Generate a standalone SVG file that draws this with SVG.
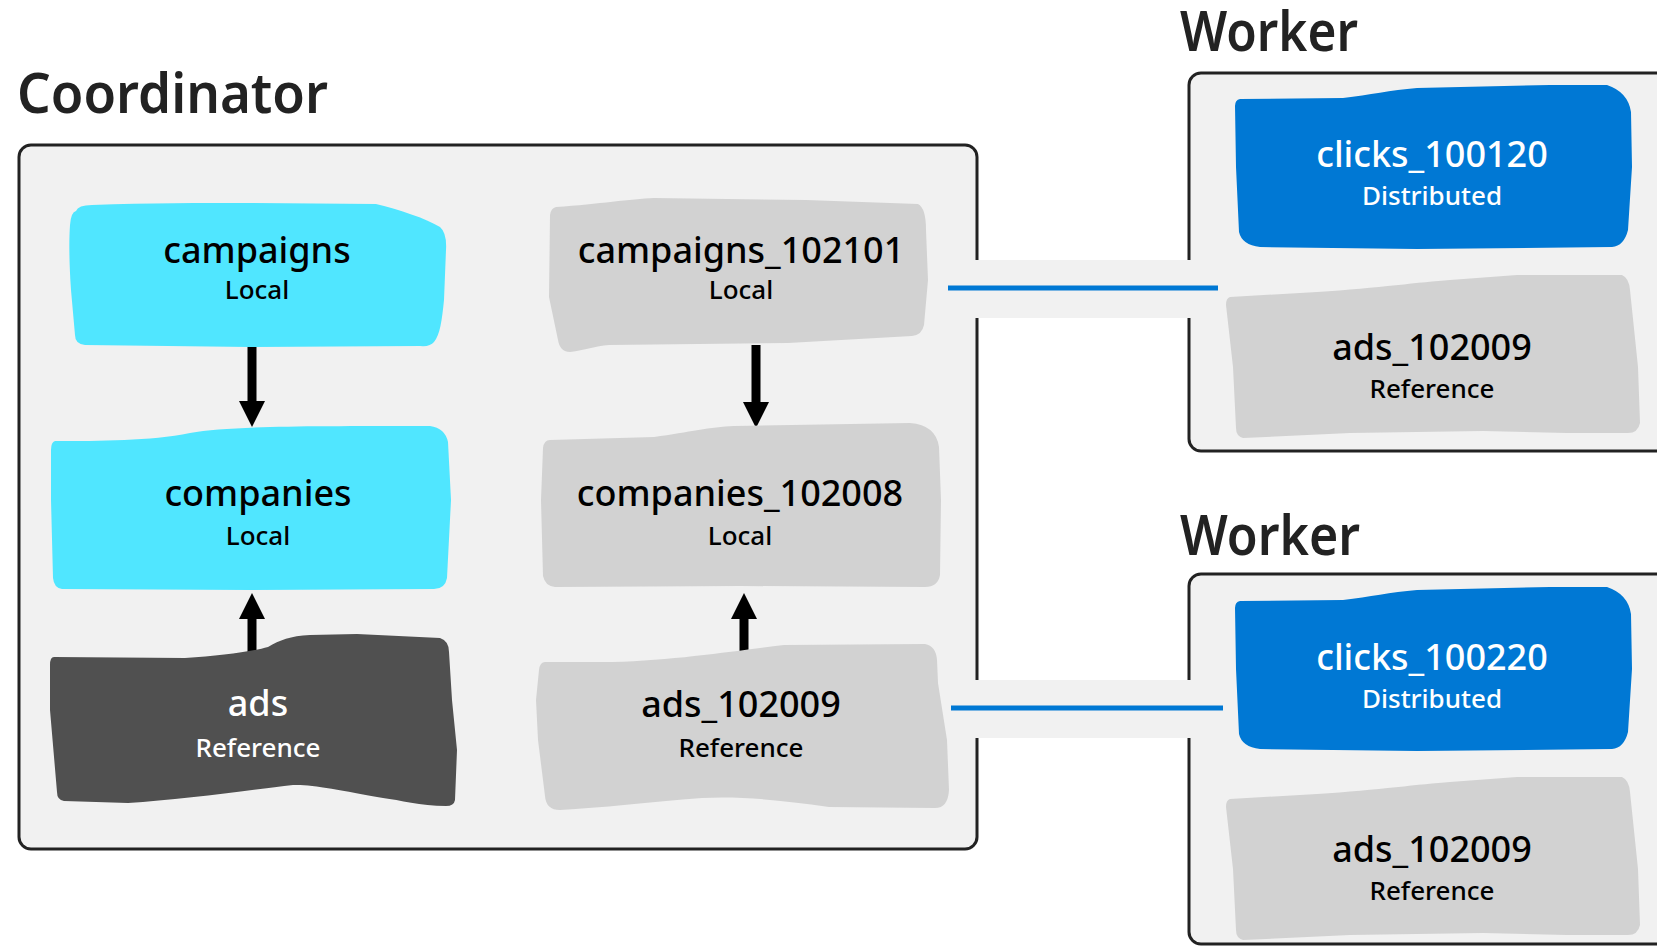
<svg xmlns="http://www.w3.org/2000/svg" width="1657" height="947" viewBox="0 0 1657 947">
<defs>
<style>
.title{font-family:"Noto Sans","Open Sans","Liberation Sans",sans-serif;font-size:56px;fill:#222;font-weight:600}
.main{font-family:"Noto Sans","Open Sans","Liberation Sans",sans-serif;font-size:36px;text-anchor:middle;font-weight:500}
.sub{font-family:"Noto Sans","Open Sans","Liberation Sans",sans-serif;font-size:26px;text-anchor:middle;font-weight:500}
.dark{fill:#000}
.light{fill:#fff}
.box{fill:#f1f1f1;stroke:#222;stroke-width:3}
.cyan{fill:#50e6ff}
.blue{fill:#0078d4}
.gray{fill:#d2d2d2}
.char{fill:#505050}
.band{fill:#f1f1f1}
.link{stroke:#0078d4;stroke-width:5;fill:none}
.arrow{stroke:#000;stroke-width:9;fill:none;marker-end:url(#head)}
</style>
<marker id="head" markerUnits="userSpaceOnUse" markerWidth="26" markerHeight="26" viewBox="0 0 26 26" refX="2" refY="13" orient="auto">
<path d="M0,0 L26,13 L0,26 Z" fill="#000"/>
</marker>
</defs>
<rect width="1657" height="947" fill="#fff"/>

<g id="coordinator">
<text class="title" x="17" y="113" textLength="311" lengthAdjust="spacingAndGlyphs">Coordinator</text>
<rect class="box" x="19" y="145" width="958" height="704" rx="12"/>
</g>

<g id="worker1">
<text class="title" x="1180" y="51" textLength="178" lengthAdjust="spacingAndGlyphs">Worker</text>
<rect class="box" x="1189" y="73" width="520" height="378" rx="12"/>
</g>

<g id="worker2">
<text class="title" x="1180" y="555" textLength="180" lengthAdjust="spacingAndGlyphs">Worker</text>
<rect class="box" x="1189" y="574" width="520" height="370" rx="12"/>
</g>

<g id="connectors">
<rect class="band" x="968" y="260" width="230" height="58"/>
<rect class="band" x="968" y="680" width="230" height="58"/>
<line class="link" x1="948" y1="288" x2="1218" y2="288"/>
<line class="link" x1="951" y1="708" x2="1223" y2="708"/>
<line class="arrow" x1="252" y1="345" x2="252" y2="403"/>
<line class="arrow" x1="756" y1="345" x2="756" y2="404"/>
<line class="arrow" x1="252" y1="659" x2="252" y2="617"/>
<line class="arrow" x1="744" y1="659" x2="744" y2="617"/>
</g>

<g id="campaigns">
<path class="cyan" d="M76 211 Q78 205 92 205 C150 203 200 203 250 203 L376 204 C400 210 425 218 440 227 Q447 233 446 250 L444 300 C442 320 440 335 434 342 Q430 347 420 346 L250 347 L85 345 Q75 344 75 335 L71 290 C69 260 69 240 70 225 Q71 212 76 211 Z"/>
<text class="main dark" x="257" y="263">campaigns</text>
<text class="sub dark" x="257" y="299">Local</text>
</g>

<g id="companies">
<path class="cyan" d="M55 441 C100 441 150 441 190 433 C230 426 300 426 430 426 Q445 428 448 442 L451 500 L447 578 Q445 589 434 589 L250 590 L62 589 Q54 588 53 578 L51 500 L51 450 Q51 442 55 441 Z"/>
<text class="main dark" x="258" y="506">companies</text>
<text class="sub dark" x="258" y="545">Local</text>
</g>

<g id="ads">
<path class="char" d="M54 657 L185 658 C220 656 250 652 268 647 C280 640 290 636 310 635 L357 634 L440 638 Q449 641 449 652 L452 700 L457 750 L455 800 Q454 806 446 806 C420 806 400 800 383 798 C340 790 310 784 293 785 C250 790 180 800 128 803 L64 801 Q57 800 57 792 L50 710 L50 665 Q50 657 54 657 Z"/>
<text class="main light" x="258" y="716">ads</text>
<text class="sub light" x="258" y="757">Reference</text>
</g>

<g id="campaigns_102101">
<path class="gray" d="M556 207 C600 204 630 199 654 198 L806 200 L918 204 Q926 208 926 230 L928 280 L924 325 Q922 335 912 336 L788 343 L609 345 C595 346 585 350 570 352 Q560 352 558 340 L549 297 L550 215 Q551 208 556 207 Z"/>
<text class="main dark" x="741" y="263">campaigns_102101</text>
<text class="sub dark" x="741" y="299">Local</text>
</g>

<g id="companies_102008">
<path class="gray" d="M550 440 L654 437 C690 432 710 427 734 426 L910 423 Q936 425 939 447 L941 500 L940 575 Q938 587 925 587 L740 586 L555 587 Q545 586 543 576 L541 500 L543 448 Q544 440 550 440 Z"/>
<text class="main dark" x="740" y="506">companies_102008</text>
<text class="sub dark" x="740" y="545">Local</text>
</g>

<g id="ads_102009">
<path class="gray" d="M545 662 L612 662 C680 660 740 650 784 645 L925 644 Q936 646 937 660 L938 683 L947 740 L949 790 Q948 808 935 808 L829 807 C780 800 740 796 702 798 C650 802 600 808 560 810 Q546 810 545 796 L538 740 L536 700 L539 670 Q540 662 545 662 Z"/>
<text class="main dark" x="741" y="717">ads_102009</text>
<text class="sub dark" x="741" y="757">Reference</text>
</g>

<g id="clicks_100120">
<path class="blue" d="M1240 99 L1343 98 C1370 95 1390 90 1417 88 L1550 85 L1607 85 Q1628 92 1631 112 L1632 167 L1628 230 Q1624 246 1612 247 L1417 249 L1260 247 Q1242 245 1239 232 L1236 167 L1235 106 Q1235 100 1240 99 Z"/>
<text class="main light" x="1432" y="167">clicks_100120</text>
<text class="sub light" x="1432" y="205">Distributed</text>
</g>

<g id="ads_102009_w1">
<path class="gray" d="M1230 297 L1317 292 C1380 288 1420 282 1450 280 L1517 275 L1622 275 Q1629 278 1630 290 L1638 367 L1640 423 Q1638 433 1628 433 L1567 433 L1483 431 L1350 433 L1243 438 Q1236 436 1236 428 L1233 367 L1226 305 Q1226 298 1230 297 Z"/>
<text class="main dark" x="1432" y="360">ads_102009</text>
<text class="sub dark" x="1432" y="398">Reference</text>
</g>

<g id="clicks_100220">
<path class="blue" d="M1240 601 L1343 600 C1370 597 1390 592 1417 590 L1550 587 L1607 587 Q1628 594 1631 614 L1632 669 L1628 732 Q1624 748 1612 749 L1417 751 L1260 749 Q1242 747 1239 734 L1236 669 L1235 608 Q1235 602 1240 601 Z"/>
<text class="main light" x="1432" y="670">clicks_100220</text>
<text class="sub light" x="1432" y="708">Distributed</text>
</g>

<g id="ads_102009_w2">
<path class="gray" d="M1230 799 L1317 794 C1380 790 1420 784 1450 782 L1517 777 L1622 777 Q1629 780 1630 792 L1638 869 L1640 925 Q1638 935 1628 935 L1567 935 L1483 933 L1350 935 L1243 940 Q1236 938 1236 930 L1233 869 L1226 807 Q1226 800 1230 799 Z"/>
<text class="main dark" x="1432" y="862">ads_102009</text>
<text class="sub dark" x="1432" y="900">Reference</text>
</g>
</svg>
